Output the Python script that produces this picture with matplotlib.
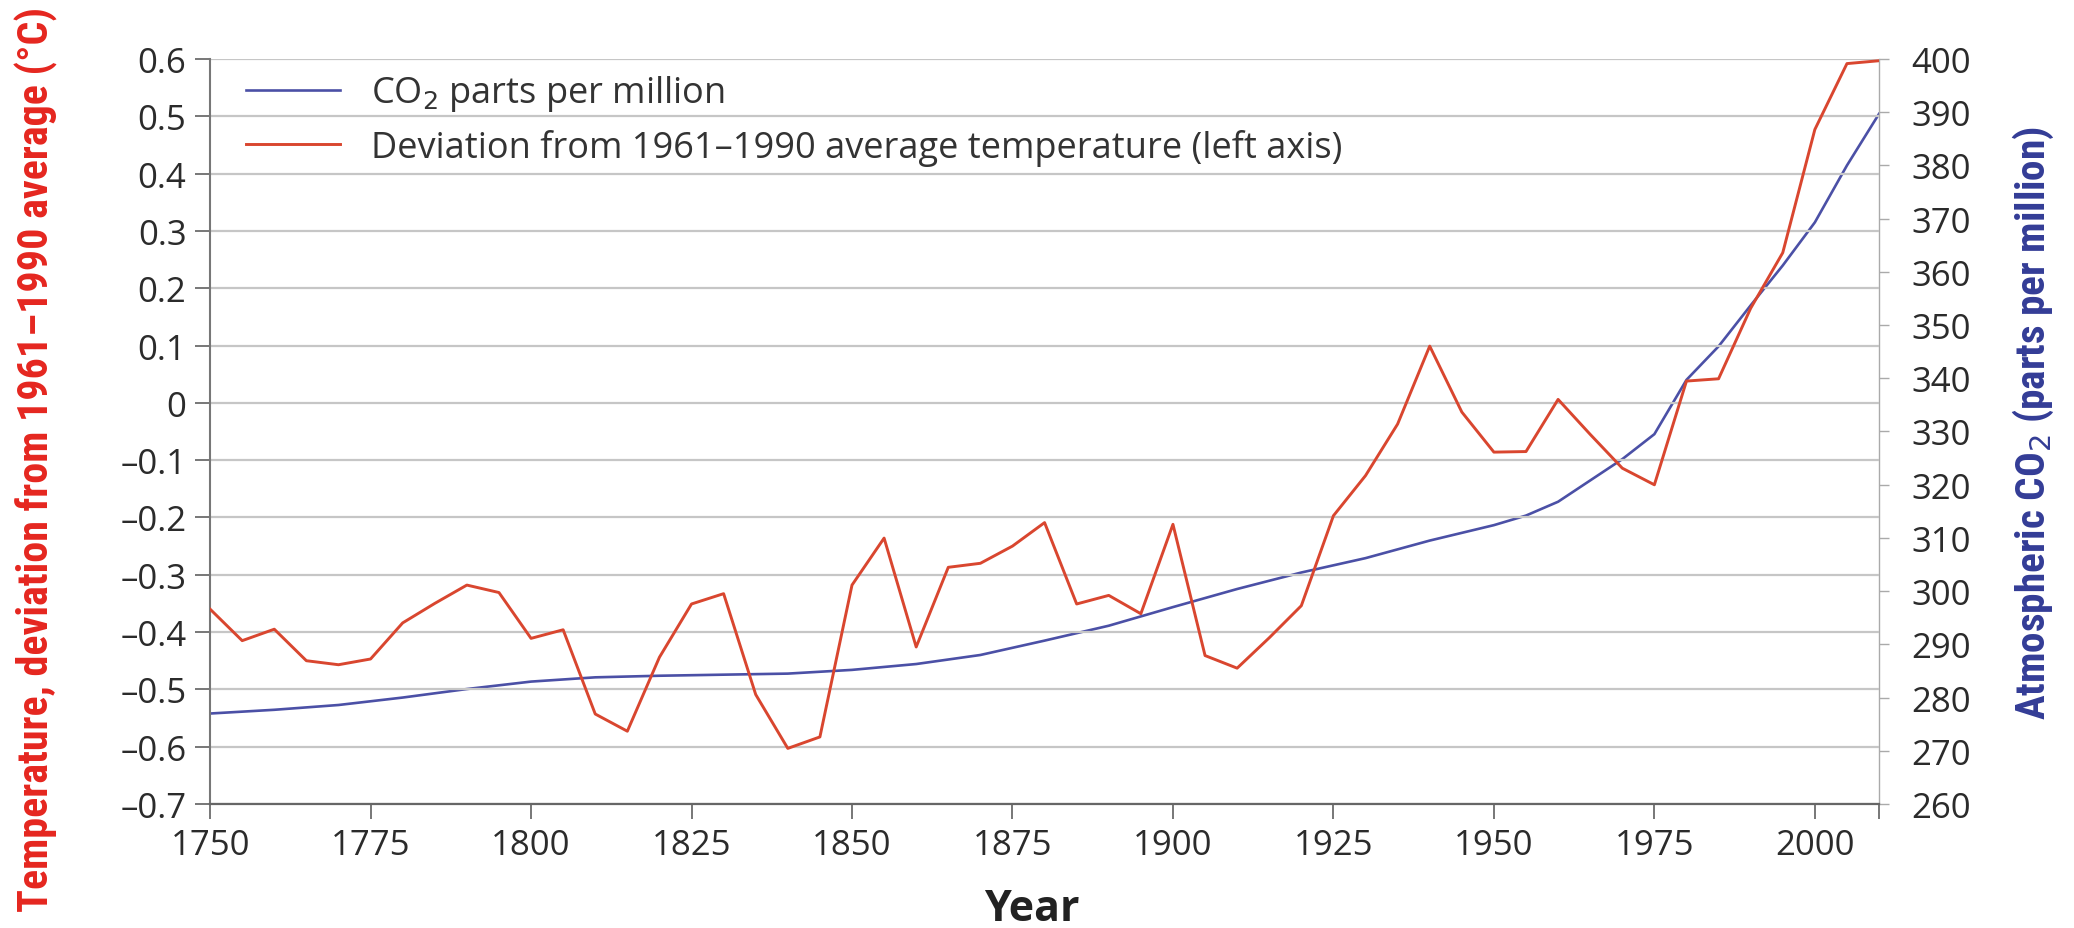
import matplotlib
matplotlib.use("Agg")
import matplotlib.pyplot as plt
from matplotlib import font_manager

# temperature anomaly, 5-year steps (deg C vs 1961-1990 mean)
years = list(range(1750, 2011, 5))
temp = [-0.360, -0.415, -0.395, -0.450, -0.457, -0.447, -0.384, -0.350, -0.318, -0.331,
        -0.411, -0.396, -0.543, -0.573, -0.444, -0.351, -0.333, -0.509, -0.603, -0.583,
        -0.318, -0.236, -0.426, -0.287, -0.280, -0.250, -0.209, -0.351, -0.336, -0.368,
        -0.212, -0.441, -0.463, -0.410, -0.354, -0.197, -0.127, -0.037, 0.099, -0.016,
        -0.086, -0.085, 0.006, -0.055, -0.114, -0.143, 0.038, 0.042, 0.165, 0.262,
        0.477, 0.592, 0.597]

# atmospheric CO2 (ppm)
co2_years = [1750, 1760, 1770, 1780, 1790, 1800, 1810, 1820, 1830, 1840, 1850, 1860,
             1870, 1880, 1890, 1900, 1910, 1920, 1930, 1940, 1950, 1955, 1960, 1965,
             1970, 1975, 1980, 1985, 1990, 1995, 2000, 2005, 2010]
co2 = [277.0, 277.7, 278.6, 280.0, 281.6, 283.0, 283.8, 284.1, 284.3, 284.5, 285.2, 286.3,
       288.0, 290.7, 293.5, 297.0, 300.4, 303.5, 306.2, 309.5, 312.4, 314.2, 316.8, 320.8,
       324.8, 329.5, 339.7, 346.0, 353.7, 361.2, 369.3, 380.0, 389.7]

xticks = [1750, 1775, 1800, 1825, 1850, 1875, 1900, 1925, 1950, 1975, 2000]
left_ticks = [0.6, 0.5, 0.4, 0.3, 0.2, 0.1, 0, -0.1, -0.2, -0.3, -0.4, -0.5, -0.6, -0.7]
left_labels = ["0.6", "0.5", "0.4", "0.3", "0.2", "0.1", "0", "\u20130.1", "\u20130.2",
               "\u20130.3", "\u20130.4", "\u20130.5", "\u20130.6", "\u20130.7"]
right_ticks = list(range(260, 401, 10))

red = "#d9462f"
blue = "#4b50a6"
tick_col = "#2b2b2b"

# pick a narrow bold face for the axis titles if one is around
installed = {f.name for f in font_manager.fontManager.ttflist}
narrow = "DejaVu Sans"
stretch = "normal"
for cand in ["Roboto Condensed", "Open Sans Condensed", "Liberation Sans Narrow",
             "Noto Sans Condensed"]:
    if cand in installed:
        narrow = cand
        break
else:
    if any(f.name == "DejaVu Sans" and f.stretch == "condensed"
           for f in font_manager.fontManager.ttflist):
        stretch = "condensed"

plt.rcParams["font.family"] = ["Open Sans", "DejaVu Sans"]

fig = plt.figure(figsize=(20.74, 9.29), dpi=100)
ax = fig.add_axes([0.1013, 0.1335, 0.8047, 0.8019])
ax2 = ax.twinx()

l_co2, = ax2.plot(co2_years, co2, color=blue, lw=1.9, zorder=2)
l_temp, = ax.plot(years, temp, color=red, lw=2.1, zorder=3)
ax.set_zorder(ax2.get_zorder() + 1)
ax.patch.set_visible(False)

ax.set_xlim(1750, 2010)
ax.set_ylim(-0.7, 0.6)
ax2.set_ylim(260, 400)

ax.set_xticks(xticks + [2010])
ax.set_xticklabels([str(y) for y in xticks] + [""])
ax.set_yticks(left_ticks)
ax.set_yticklabels(left_labels)
ax2.set_yticks(right_ticks)

ax.grid(axis="y", color="#c6c6c6", lw=1.6)
ax.grid(axis="x", visible=False)
ax.tick_params(axis="x", length=11, width=1.4, color="#777777", labelsize=25,
               labelcolor=tick_col, pad=6)
ax.tick_params(axis="y", length=11, width=1.4, color="#777777", labelsize=25,
               labelcolor=tick_col, pad=6)
ax2.tick_params(axis="y", length=7, width=1.0, color="#aaaaaa", labelsize=25,
                labelcolor=tick_col, pad=16)

for a in (ax, ax2):
    a.spines["top"].set_visible(False)
ax.spines["left"].set_color("#777777")
ax.spines["left"].set_linewidth(1.5)
ax.spines["bottom"].set_color("#666666")
ax.spines["bottom"].set_linewidth(1.6)
ax.spines["right"].set_visible(False)
ax2.spines["left"].set_visible(False)
ax2.spines["bottom"].set_visible(False)
ax2.spines["right"].set_color("#aaaaaa")
ax2.spines["right"].set_linewidth(1.0)

leg = ax.legend([l_co2, l_temp],
                ["CO$_2$ parts per million",
                 "Deviation from 1961\u20131990 average temperature (left axis)"],
                loc="upper left", bbox_to_anchor=(0.013, 1.0), frameon=False,
                fontsize=26, handlelength=2.6, handletextpad=0.85, labelspacing=0.42,
                borderaxespad=0)
for t in leg.get_texts():
    t.set_color("#333333")

fig.text(0.4975, 0.0205, "Year", ha="center", va="center", fontsize=31,
         fontweight="bold", color="#222222")
t_left = fig.text(0.0175, 0.505,
                  "Temperature, deviation from 1961\u20131990 average (\u00b0C)",
                  rotation=90, ha="center", va="center", fontsize=27, fontweight="bold",
                  color="#e5261f", family=narrow, fontstretch=stretch)
t_right = fig.text(0.9805, 0.545, "Atmospheric CO$_2$ (parts per million)",
                   rotation=90, ha="center", va="center", fontsize=27, fontweight="bold",
                   color="#333c96", family=narrow, fontstretch=stretch)

# size the rotated titles so they run the same length along the axes
fig.canvas.draw()
renderer = fig.canvas.get_renderer()
for txt, length in [(t_left, 905), (t_right, 594)]:
    h = txt.get_window_extent(renderer).height
    txt.set_fontsize(txt.get_fontsize() * length / h)

fig.savefig("out.png", dpi=100)
